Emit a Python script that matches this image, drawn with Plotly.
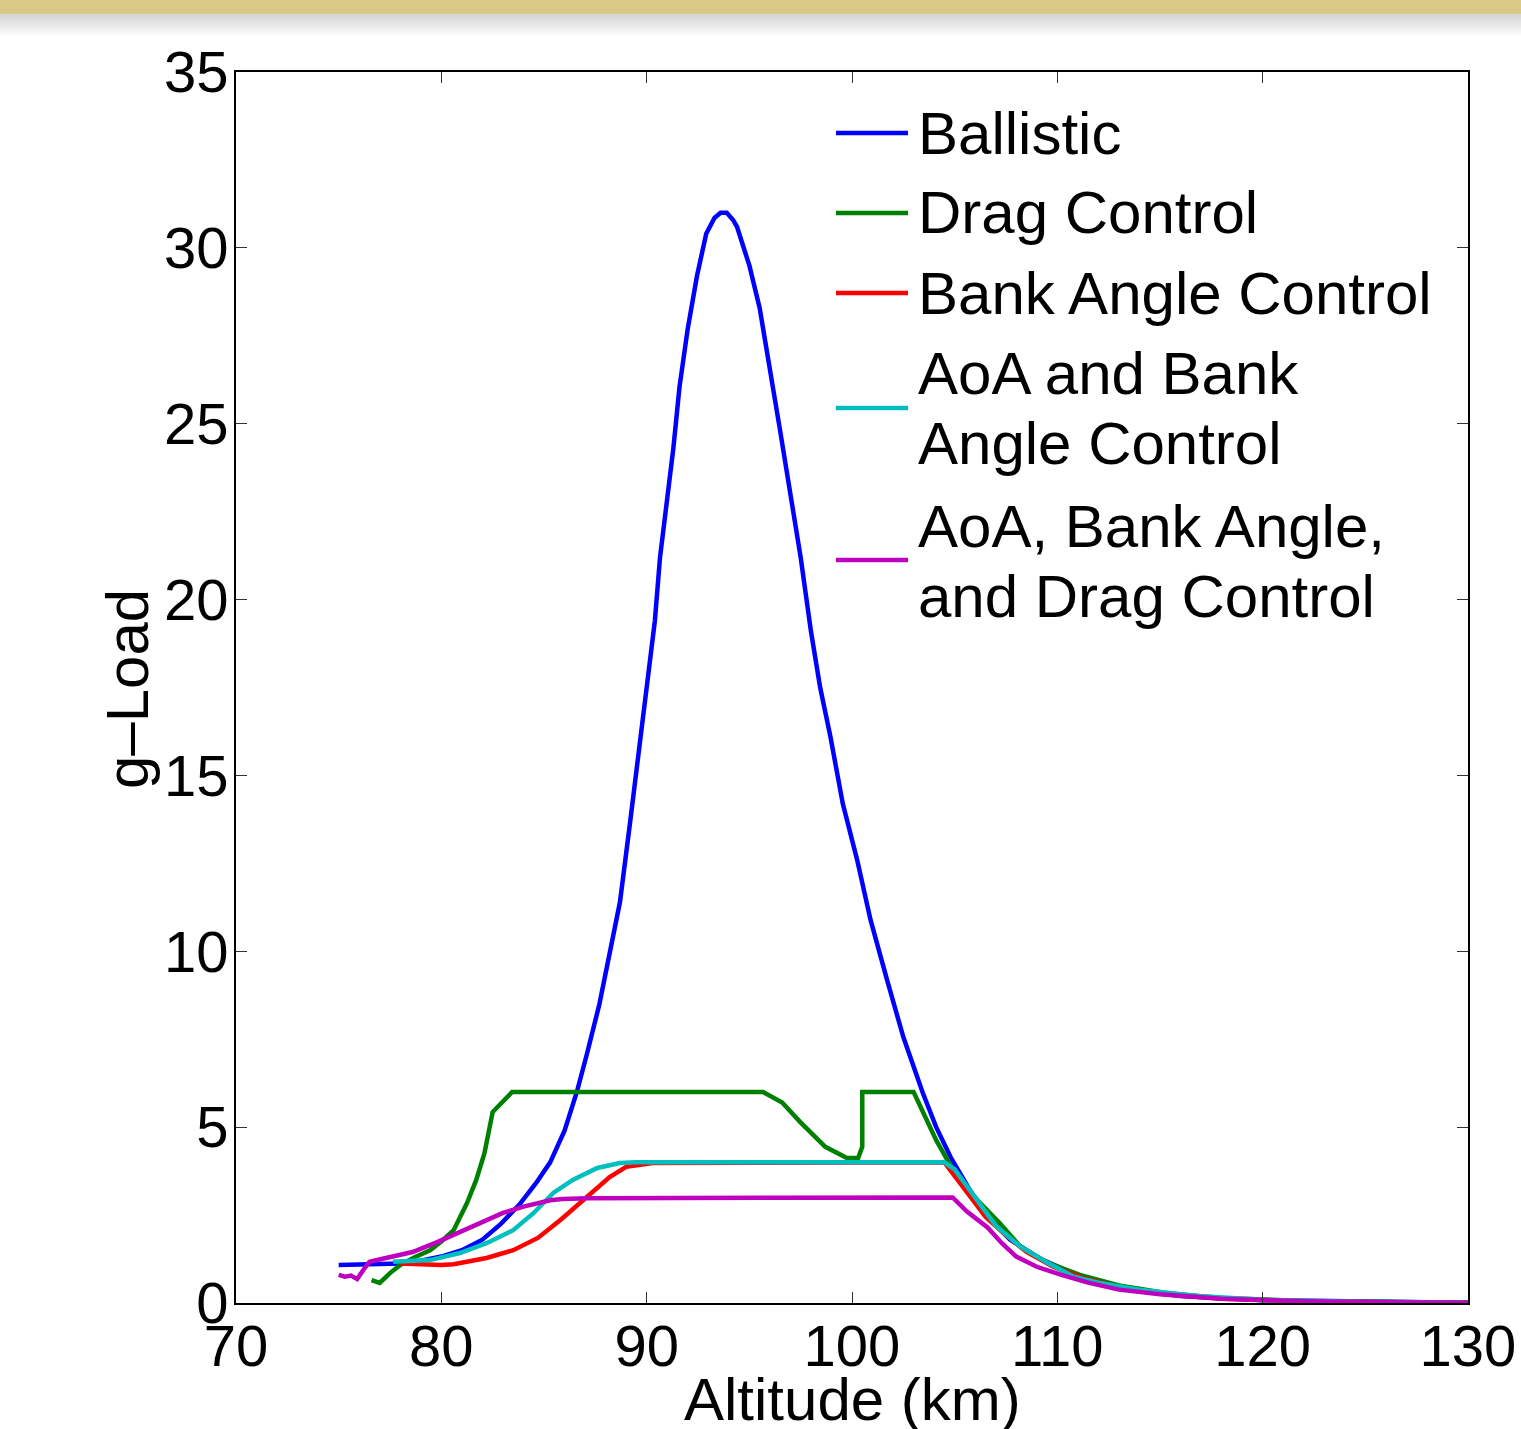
import plotly.graph_objects as go

# ---------------- data ----------------
ballistic_x = [75.0, 76.5, 78.0, 79.0, 80.0, 81.0, 82.0, 82.9, 83.8, 84.6, 85.3, 86.0, 86.6, 87.1, 87.7,
               88.2, 88.7, 89.2, 89.7, 90.0, 90.4, 90.65, 91.0, 91.3, 91.6, 92.0, 92.45, 92.9, 93.3, 93.6,
               93.9, 94.2, 94.4, 95.0, 95.5, 96.0, 96.5, 97.0, 97.5, 98.0, 98.45, 98.95, 99.55, 100.25,
               100.9, 101.7, 102.5, 103.45, 104.1, 104.8, 105.75, 106.7, 107.7, 109.2, 111.1, 113.5,
               116.0, 120.0, 125.0, 130.0]
ballistic_y = [1.08, 1.09, 1.12, 1.2, 1.32, 1.5, 1.8, 2.25, 2.8, 3.4, 4.0, 4.9, 6.0, 7.1, 8.5,
               9.95, 11.4, 13.7, 16.1, 17.5, 19.4, 21.2, 22.8, 24.3, 26.05, 27.7, 29.2, 30.4, 30.85, 31.0,
               31.0, 30.8, 30.6, 29.5, 28.3, 26.6, 24.8, 23.0, 21.2, 19.1, 17.5, 16.1, 14.2, 12.6,
               10.9, 9.2, 7.56, 5.97, 5.0, 4.15, 3.2, 2.4, 1.8, 1.25, 0.75, 0.42,
               0.2, 0.08, 0.03, 0.01]

drag_x = [76.6, 77.0, 77.5, 78.0, 78.7, 79.45, 80.0, 80.6, 81.25, 81.7, 82.1, 82.5, 83.45, 95.67,
          96.6, 97.47, 98.7, 99.75, 100.3, 100.5, 100.5, 103.0, 104.1, 105.0, 106.1, 107.2, 108.2,
          109.5, 111.1, 113.0, 115.35, 118.0, 122.0, 126.0, 130.0]
drag_y = [0.65, 0.57, 0.85, 1.08, 1.3, 1.5, 1.75, 2.07, 2.84, 3.5, 4.26, 5.43, 6.0, 6.0,
          5.7, 5.15, 4.44, 4.12, 4.12, 4.44, 6.0, 6.0, 4.63, 3.7, 2.93, 2.27, 1.6,
          1.15, 0.8, 0.5, 0.28, 0.14, 0.06, 0.02, 0.01]

bank_x = [78.0, 79.0, 80.0, 80.6, 82.2, 83.5, 84.7, 85.8, 87.1, 88.2, 89.0, 90.3, 104.5, 105.0,
          105.75, 106.5, 107.35, 108.5, 109.8, 111.2, 113.0, 115.2, 118.0, 122.0, 126.0, 130.0]
bank_y = [1.12, 1.09, 1.08, 1.1, 1.28, 1.5, 1.85, 2.36, 3.0, 3.58, 3.87, 3.98, 4.0, 3.6,
          3.0, 2.45, 2.0, 1.45, 1.03, 0.72, 0.45, 0.25, 0.12, 0.05, 0.02, 0.01]

aoa_bank_x = [77.65, 79.45, 80.9, 82.2, 83.5, 84.5, 85.45, 86.4, 87.6, 88.7, 89.5, 104.5, 105.0,
              106.1, 107.0, 108.2, 109.5, 110.8, 112.0, 114.0, 116.8, 120.0, 125.0, 130.0]
aoa_bank_y = [1.17, 1.22, 1.42, 1.7, 2.07, 2.56, 3.13, 3.5, 3.84, 3.98, 4.0, 4.0, 3.8,
              2.93, 2.2, 1.6, 1.15, 0.75, 0.58, 0.38, 0.2, 0.09, 0.03, 0.01]

aoa_bank_drag_x = [75.0, 75.3, 75.6, 75.9, 76.2, 76.5, 77.3, 78.6, 79.8, 81.4, 83.0, 84.0, 84.65,
                   85.3, 85.9, 87.1, 104.9, 105.6, 106.6, 107.3, 108.0, 109.0, 110.2, 111.5, 113.0,
                   115.0, 118.0, 122.0, 126.0, 130.0]
aoa_bank_drag_y = [0.8, 0.75, 0.78, 0.68, 0.94, 1.17, 1.28, 1.45, 1.73, 2.16, 2.56, 2.74, 2.84,
                   2.92, 2.96, 2.98, 3.0, 2.6, 2.15, 1.7, 1.32, 1.03, 0.8, 0.58, 0.38,
                   0.25, 0.12, 0.05, 0.02, 0.005]

series_names = ["Ballistic", "Drag Control", "Bank Angle Control",
                "AoA and Bank<br>Angle Control", "AoA, Bank Angle,<br>and Drag Control"]
series_colors = ["#0000FF", "#008000", "#FF0000", "#00BFBF", "#BF00BF"]

x_ticks = [70, 80, 90, 100, 110, 120, 130]
y_ticks = [0, 5, 10, 15, 20, 25, 30, 35]
x_title = "Altitude (km)"
y_title = "g\u2013Load"

# ---------------- figure ----------------
W, H = 1521, 1429
L, R, T, B = 236, 1468, 72, 1303
FONT = "Liberation Sans, Arial, Helvetica, sans-serif"


def px_x(px):
    return (px - L) / (R - L)


def px_y(py):
    return (B - py) / (B - T)


fig = go.Figure()
all_x = [ballistic_x, drag_x, bank_x, aoa_bank_x, aoa_bank_drag_x]
all_y = [ballistic_y, drag_y, bank_y, aoa_bank_y, aoa_bank_drag_y]
for xs, ys, name, col in zip(all_x, all_y, series_names, series_colors):
    fig.add_trace(go.Scatter(x=xs, y=ys, mode="lines", name=name.replace("<br>", " "),
                             line=dict(color=col, width=4.5), showlegend=False))

shapes = []
# gold banner at the top + soft shadow
shapes.append(dict(type="rect", xref="paper", yref="paper", x0=px_x(0), x1=px_x(W),
                   y0=px_y(14), y1=px_y(0), fillcolor="#DAC986", line=dict(width=0), layer="above"))
for i in range(12):
    g = int(214 + (255 - 214) * i / 11)
    shapes.append(dict(type="rect", xref="paper", yref="paper", x0=px_x(0), x1=px_x(W),
                       y0=px_y(14 + 2 * (i + 1)), y1=px_y(14 + 2 * i),
                       fillcolor=f"rgb({g},{g},{g})", line=dict(width=0), layer="above"))

# custom legend
legend_line_y = [133, 213, 293, 408, 560]
legend_text_rows = [[133], [213], [293], [374, 443], [526, 596]]
annotations = []
for name, col, ly, rows in zip(series_names, series_colors, legend_line_y, legend_text_rows):
    shapes.append(dict(type="line", xref="paper", yref="paper", x0=px_x(836), x1=px_x(908),
                       y0=px_y(ly), y1=px_y(ly), line=dict(color=col, width=4.5)))
    for part, ry in zip(name.split("<br>"), rows):
        annotations.append(dict(text=part, xref="paper", yref="paper", x=px_x(916), y=px_y(ry),
                                xanchor="left", yanchor="middle", showarrow=False,
                                font=dict(size=60, color="black", family=FONT)))

# axis titles
annotations.append(dict(text=x_title, xref="paper", yref="paper", x=0.5, y=px_y(1399),
                        xanchor="center", yanchor="middle", showarrow=False,
                        font=dict(size=60, color="black", family=FONT)))
annotations.append(dict(text=y_title, xref="paper", yref="paper", x=px_x(128), y=px_y(689),
                        xanchor="center", yanchor="middle", textangle=-90, showarrow=False,
                        font=dict(size=60, color="black", family=FONT)))

axis_common = dict(showgrid=False, zeroline=False, showline=True, linecolor="black", linewidth=2,
                   mirror="allticks", ticks="inside", ticklen=11, tickwidth=1, tickcolor="#333333",
                   tickfont=dict(size=58, color="black", family=FONT), automargin=False)

fig.update_layout(
    width=W, height=H,
    margin=dict(l=L, r=W - R, t=T, b=H - B, pad=0),
    paper_bgcolor="white", plot_bgcolor="white",
    xaxis=dict(range=[70, 130], tickvals=x_ticks, ticktext=[str(v) for v in x_ticks],
               ticklabelstandoff=-9, **axis_common),
    yaxis=dict(range=[0, 35], tickvals=y_ticks, ticktext=[str(v) for v in y_ticks],
               ticklabelstandoff=-6, **axis_common),
    shapes=shapes,
    annotations=annotations,
    showlegend=False,
)

fig.write_html("out.html")
